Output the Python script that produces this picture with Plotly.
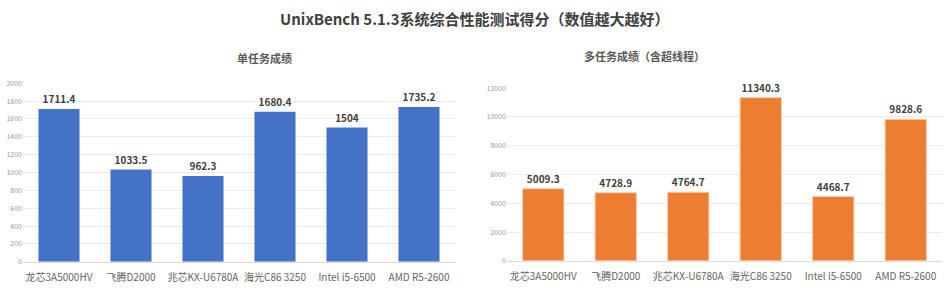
import plotly.graph_objects as go

categories = ["龙芯3A5000HV", "飞腾D2000", "兆芯KX-U6780A", "海光C86 3250", "Intel i5-6500", "AMD R5-2600"]
single_scores = [1711.4, 1033.5, 962.3, 1680.4, 1504, 1735.2]
multi_scores = [5009.3, 4728.9, 4764.7, 11340.3, 4468.7, 9828.6]
single_ticks = [0, 200, 400, 600, 800, 1000, 1200, 1400, 1600, 1800, 2000]
multi_ticks = [0, 2000, 4000, 6000, 8000, 10000, 12000]

FONT = "Noto Sans CJK SC"
W, H = 950, 289

fig = go.Figure()
fig.add_trace(go.Bar(
    x=categories, y=single_scores, xaxis="x", yaxis="y",
    marker=dict(color="#4472C4", line=dict(width=0)),
    text=[f"{v:g}" for v in single_scores], textposition="outside",
    textfont=dict(family=FONT, size=10, color="#404040"),
    texttemplate="<b>%{text}</b>", cliponaxis=False, showlegend=False,
))
fig.add_trace(go.Bar(
    x=categories, y=multi_scores, xaxis="x2", yaxis="y2",
    marker=dict(color="#ED7D31", line=dict(width=1, color="#F8CBAD")),
    text=[f"{v:g}" for v in multi_scores], textposition="outside",
    textfont=dict(family=FONT, size=10, color="#404040"),
    texttemplate="<b>%{text}</b>", cliponaxis=False, showlegend=False,
))

def xd(a, b):
    return [a / W, b / W]

def yd(top, bottom):
    return [1 - bottom / H, 1 - top / H]

common_x = dict(
    showgrid=False, showline=True, linecolor="#d9d9d9", linewidth=1,
    ticks="outside", ticklen=6, tickcolor="rgba(0,0,0,0)",
    tickfont=dict(family=FONT, size=10, color="#666666"),
    fixedrange=True,
)
common_y = dict(
    showgrid=True, gridcolor="#ececec", gridwidth=1, zeroline=False,
    showline=False, ticks="", tickfont=dict(family=FONT, size=7, color="#999999"),
    tickmode="array", fixedrange=True,
)

fig.update_layout(
    width=W, height=H,
    margin=dict(l=0, r=0, t=0, b=0),
    paper_bgcolor="white", plot_bgcolor="white",
    bargap=0.43,
    font=dict(family=FONT),
    xaxis=dict(domain=xd(23, 455), anchor="y", **common_x),
    yaxis=dict(domain=yd(80, 265), anchor="x", range=[0, 2000],
               tickvals=single_ticks, ticktext=[str(t) for t in single_ticks], **common_y),
    xaxis2=dict(domain=xd(507, 942), anchor="y2", **common_x),
    yaxis2=dict(domain=yd(85, 264), anchor="x2", range=[0, 12000],
                tickvals=multi_ticks, ticktext=[str(t) for t in multi_ticks], **common_y),
    annotations=[
        dict(text="<b>UnixBench 5.1.3系统综合性能测试得分（数值越大越好）</b>",
             x=0.5, y=1 - 13 / H, xref="paper", yref="paper", showarrow=False,
             font=dict(family=FONT, size=15, color="#404040"), yanchor="middle"),
        dict(text="<b>单任务成绩</b>",
             x=235 / W, y=1 - 54 / H, xref="paper", yref="paper", showarrow=False,
             font=dict(family=FONT, size=11, color="#595959"), yanchor="middle"),
        dict(text="<b>多任务成绩（含超线程）</b>",
             x=707 / W, y=1 - 52 / H, xref="paper", yref="paper", showarrow=False,
             font=dict(family=FONT, size=11, color="#595959"), yanchor="middle"),
    ],
)

fig.write_html("out.html")
